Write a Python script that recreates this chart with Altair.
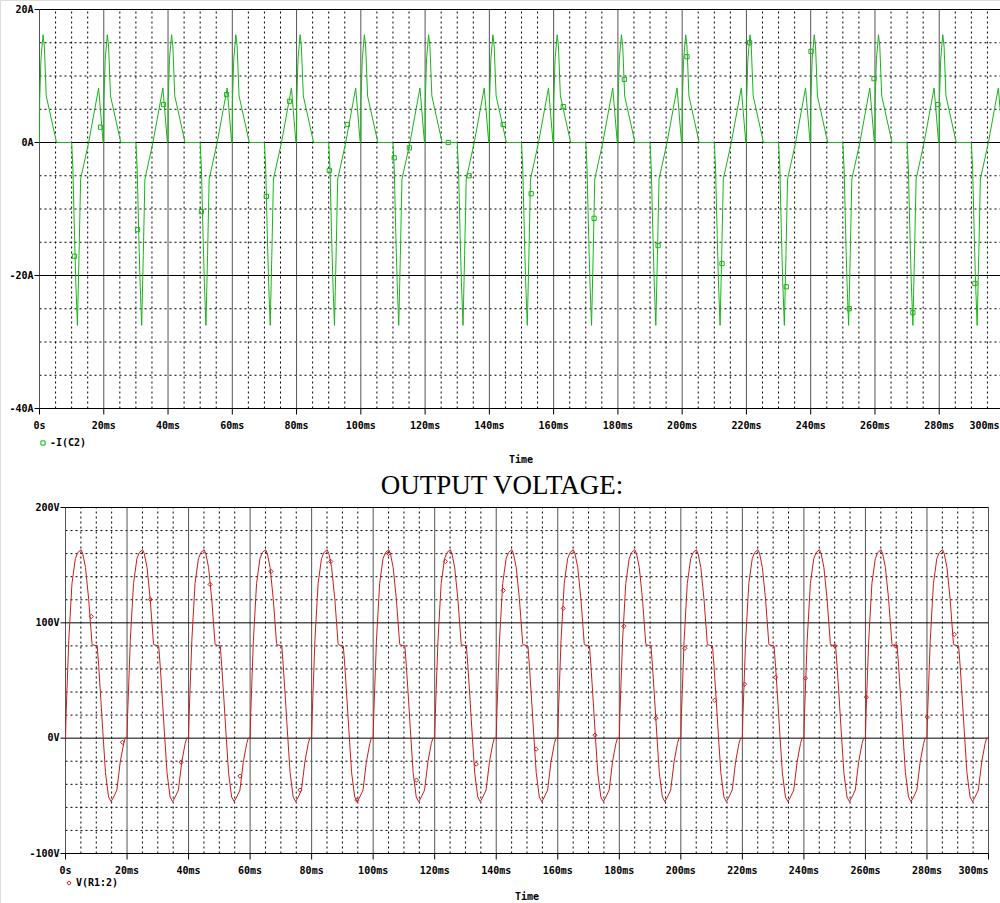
import altair as alt
import pandas as pd

W, H = 1000, 903
N_CYCLES = 15
PERIOD = 20.0  # ms

# ---- -I(C2): one 20 ms period (ms from period start, amperes) ----
I_T = [0.0, 0.05, 0.45, 1.1, 1.5, 2.1, 5.3, 10.0, 10.4, 10.9, 11.3, 11.8, 12.3, 12.8, 15.3, 18.4, 19.8]
I_V = [0.0, 6.2, 12.5, 16.2, 14.5, 7.0, 0.0, 0.0, -4.0, -14.0, -21.0, -27.5, -17.0, -5.5, 0.0, 8.2, 0.0]

# ---- V(R1:2): one 20 ms period (ms from period start, volts) ----
V_T = [0.0, 0.2, 1.07, 2.1, 3.2, 4.0, 5.06, 5.6, 6.5, 7.55, 8.6, 8.7, 10.3, 10.8, 11.5, 12.1,
       13.0, 14.0, 14.8, 15.65, 16.7, 17.8, 18.9, 19.4]
V_V = [0.0, 21.0, 85.0, 134.0, 155.6, 161.0, 163.4, 160.0, 148.0, 120.0, 82.0, 81.0, 80.0, 62.0, 33.0, 7.0,
       -30.0, -51.0, -55.0, -51.0, -45.0, -20.5, -4.6, 0.0]

# trace markers (ms, value)
I_MARK_T = [10.9, 19.0, 30.5, 38.6, 50.4, 58.2, 70.6, 77.8, 90.2, 95.8, 110.4, 115.1, 127.2, 133.7, 144.3,
            153.0, 163.0, 172.6, 182.0, 192.5, 201.5, 212.4, 221.0, 232.4, 240.1, 252.0, 259.7, 271.8, 279.6, 291.1]
I_MARK_V = [-17.1, 2.3, -13.1, 5.7, -10.4, 7.2, -8.1, 6.2, -4.2, 2.7, -2.3, -0.8, 0.0, -5.0, 2.7,
            -7.7, 5.4, -11.4, 9.5, -15.5, 12.9, -18.2, 15.0, -21.7, 13.7, -25.0, 9.6, -25.6, 5.7, -21.2]

V_MARK_T = [8.4, 18.5, 27.6, 37.6, 47.0, 56.7, 66.8, 76.2, 86.2, 94.7, 105.0, 114.1, 123.5, 133.5, 142.3,
            153.0, 161.8, 172.1, 181.5, 191.9, 201.3, 211.0, 220.7, 230.8, 240.5, 250.1, 260.3, 269.8, 280.1, 288.9]
V_MARK_V = [105.6, -3.5, 120.3, -20.8, 133.3, -32.9, 144.6, -45.0, 153.2, -53.7, 160.2, -36.4, 153.2, -22.5, 128.1,
            -9.5, 112.6, 2.6, 97.0, 17.3, 77.9, 32.9, 46.8, 52.8, 52.0, 80.0, 35.5, 80.0, 18.2, 90.0]

# axis ticks and labels
X_TICKS = list(range(0, 301, 20))
X_LABELS = ["0s"] + [f"{t}ms" for t in X_TICKS[1:]]
I_TICKS = [20, 0, -20, -40]
I_LABELS = ["20A", "0A", "-20A", "-40A"]
V_TICKS = [200, 100, 0, -100]
V_LABELS = ["200V", "100V", "0V", "-100V"]

GREEN = "#19b419"
RED = "#c81e1e"
MONO = "DejaVu Sans Mono"


def tile(ts, vs):
    rows = []
    for k in range(N_CYCLES):
        for t, v in zip(ts, vs):
            rows.append({"t": k * PERIOD + t, "v": v})
    rows.append({"t": N_CYCLES * PERIOD, "v": vs[0]})
    df = pd.DataFrame(rows)
    df["i"] = range(len(df))
    return df


def panel(trace, marks, y_lo, y_hi, y_minor, y_major, y_ticks, y_labels,
          x_rng, y_rng, color, shape, legend_name, title_xy, legend_xy, end_dx):
    xs = alt.Scale(domain=[0, 300], range=x_rng, nice=False, zero=False)
    ys = alt.Scale(domain=[y_lo, y_hi], range=y_rng, nice=False, zero=False)

    def X(field):
        return alt.X(field, type="quantitative", scale=xs, axis=None)

    def Y(field):
        return alt.Y(field, type="quantitative", scale=ys, axis=None)

    y_bottom = alt.Y(datum=y_lo, type="quantitative", scale=ys, axis=None)
    x_left = alt.X(datum=0, type="quantitative", scale=xs, axis=None)

    vt = pd.DataFrame({"t": [t for t in range(0, 301, 5)]})
    vt["major"] = vt["t"] % 20 == 0
    hv = pd.DataFrame({"v": list(range(y_lo, y_hi + 1, y_minor))})
    hv["major"] = hv["v"] % y_major == 0

    v_minor = alt.Chart(vt[~vt["major"]]).mark_rule(
        color="black", strokeWidth=1, strokeDash=[2, 3]
    ).encode(x=X("t"), y=y_bottom, y2=alt.Y2(datum=y_hi))
    v_major = alt.Chart(vt[vt["major"]]).mark_rule(
        color="#555555", strokeWidth=1
    ).encode(x=X("t"), y=y_bottom, y2=alt.Y2(datum=y_hi))
    h_minor = alt.Chart(hv[~hv["major"]]).mark_rule(
        color="black", strokeWidth=1, strokeDash=[2, 3]
    ).encode(y=Y("v"), x=x_left, x2=alt.X2(datum=300))
    h_major = alt.Chart(hv[hv["major"]]).mark_rule(
        color="black", strokeWidth=1
    ).encode(y=Y("v"), x=x_left, x2=alt.X2(datum=300))

    xt = pd.DataFrame({"t": X_TICKS, "label": X_LABELS})
    yt = pd.DataFrame({"v": y_ticks, "label": y_labels})

    x_tick = alt.Chart(xt).mark_rule(color="black", strokeWidth=1, y2Offset=6).encode(
        x=X("t"), y=y_bottom, y2=alt.Y2(datum=y_lo))
    y_tick = alt.Chart(yt).mark_rule(color="black", strokeWidth=1, x2Offset=-5).encode(
        y=Y("v"), x=x_left, x2=alt.X2(datum=0))
    text_style = dict(font=MONO, fontSize=10, fontWeight="bold", color="black", baseline="middle")
    # time labels are centred on their ticks, except the last one which ends at the axis end
    x_lab = alt.Chart(xt.iloc[:-1]).mark_text(dy=17, align="center", **text_style).encode(
        x=X("t"), y=y_bottom, text="label:N")
    x_lab_end = alt.Chart(xt.iloc[-1:]).mark_text(dy=17, dx=end_dx, align="right", **text_style).encode(
        x=X("t"), y=y_bottom, text="label:N")
    y_lab = alt.Chart(yt).mark_text(dx=-6, align="right", **text_style).encode(
        y=Y("v"), x=x_left, text="label:N")

    line = alt.Chart(trace).mark_line(color=color, strokeWidth=1, interpolate="linear").encode(
        x=X("t"), y=Y("v"), order=alt.Order("i:Q"))
    pts = alt.Chart(marks).mark_point(shape=shape, size=18, filled=False, color=color, strokeWidth=1,
                                      opacity=1).encode(x=X("t"), y=Y("v"))

    time_lbl = alt.Chart(pd.DataFrame({"label": ["Time"]})).mark_text(
        align="center", **text_style
    ).encode(x=alt.value(title_xy[0]), y=alt.value(title_xy[1]), text="label:N")
    leg_sym = alt.Chart(pd.DataFrame({"label": [legend_name]})).mark_point(
        shape=shape, size=18, filled=False, color=color, strokeWidth=1, opacity=1
    ).encode(x=alt.value(legend_xy[0]), y=alt.value(legend_xy[1]))
    leg_txt = alt.Chart(pd.DataFrame({"label": [legend_name]})).mark_text(
        align="left", **text_style
    ).encode(x=alt.value(legend_xy[0] + 7), y=alt.value(legend_xy[1]), text="label:N")

    return alt.layer(v_minor, h_minor, v_major, h_major, x_tick, y_tick, line, pts,
                     x_lab, x_lab_end, y_lab, time_lbl, leg_sym, leg_txt)


cur = tile(I_T, I_V)
volt = tile(V_T, V_V)
cur_marks = pd.DataFrame({"t": I_MARK_T, "v": I_MARK_V})
volt_marks = pd.DataFrame({"t": V_MARK_T, "v": V_MARK_V})

top = panel(cur, cur_marks, -40, 20, 5, 20, I_TICKS, I_LABELS,
            [39.5, 1003.5], [408.5, 9.5], GREEN, "square", "-I(C2)", (521, 460), (43, 443), -4)
bottom = panel(volt, volt_marks, -100, 200, 20, 100, V_TICKS, V_LABELS,
               [65.5, 988.5], [853.5, 507.5], RED, "diamond", "V(R1:2)", (527, 897), (69, 883), 0)

heading = alt.Chart(pd.DataFrame({"label": ["OUTPUT VOLTAGE:"]})).mark_text(
    font="Liberation Serif", fontSize=27, align="center", baseline="alphabetic", color="black"
).encode(x=alt.value(502), y=alt.value(494), text="label:N")

chart = alt.layer(top, bottom, heading).resolve_scale(x="independent", y="independent").properties(
    width=W, height=H, autosize=alt.AutoSizeParams(type="none"), padding=0
).configure_view(stroke="transparent").configure(background="white")

chart.save("out.html", embed_options={"renderer": "svg", "actions": False})
